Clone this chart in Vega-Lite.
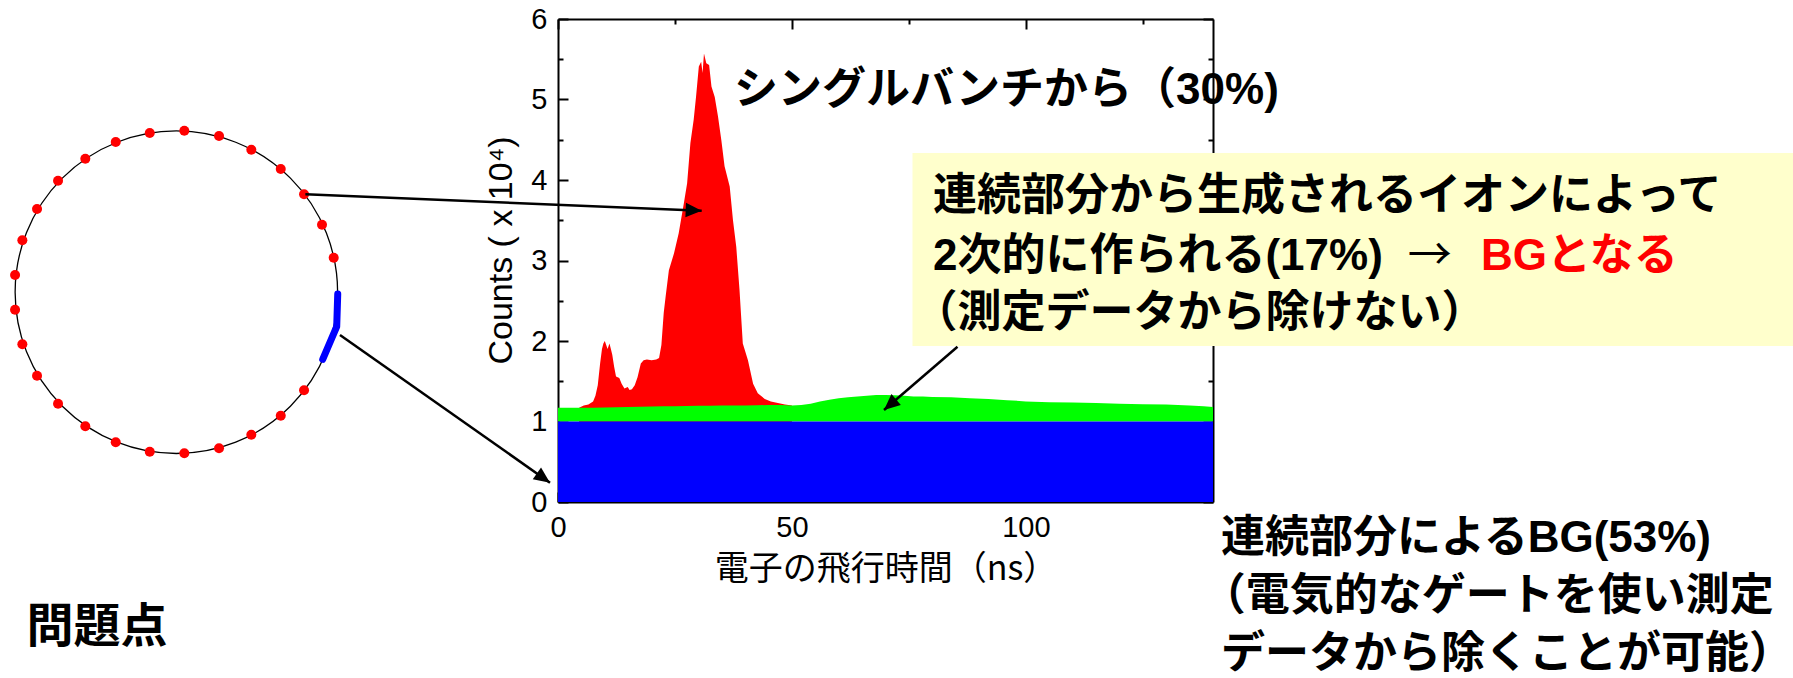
{
  "$schema": "https://vega.github.io/schema/vega-lite/v6.json",
  "width": 655,
  "height": 483,
  "autosize": {"type": "none"},
  "padding": {"left": 558, "top": 19, "right": 580, "bottom": 176},
  "background": "white",
  "config": {
    "view": {"stroke": null},
    "axis": {
      "domainColor": "black",
      "domainWidth": 2,
      "tickColor": "black",
      "tickWidth": 2,
      "labelFont": "Liberation Sans",
      "labelFontSize": 29,
      "labelColor": "black",
      "labelFlush": false,
      "titleColor": "black",
      "titleFontWeight": "normal",
      "grid": false,
      "zindex": 0
    }
  },
  "datasets": {
    "counts": [
      {"t": 0, "base": 1.0, "top": 1.17},
      {"t": 2.5, "base": 1.0, "top": 1.17},
      {"t": 5, "base": 1.0, "top": 1.17},
      {"t": 7.5, "base": 1.0, "top": 1.172},
      {"t": 10, "base": 1.0, "top": 1.175},
      {"t": 12.5, "base": 1.0, "top": 1.178},
      {"t": 15, "base": 1.0, "top": 1.18},
      {"t": 17.5, "base": 1.0, "top": 1.182},
      {"t": 20, "base": 1.0, "top": 1.185},
      {"t": 22.5, "base": 1.0, "top": 1.188},
      {"t": 25, "base": 1.0, "top": 1.19},
      {"t": 27.5, "base": 1.0, "top": 1.192},
      {"t": 30, "base": 1.0, "top": 1.195},
      {"t": 32.5, "base": 1.0, "top": 1.197},
      {"t": 35, "base": 1.0, "top": 1.2},
      {"t": 37.5, "base": 1.0, "top": 1.2},
      {"t": 40, "base": 1.0, "top": 1.2},
      {"t": 42.5, "base": 1.0, "top": 1.202},
      {"t": 45, "base": 1.0, "top": 1.205},
      {"t": 47.5, "base": 1.0, "top": 1.205},
      {"t": 50, "base": 1.0, "top": 1.2},
      {"t": 52, "base": 1.0, "top": 1.205},
      {"t": 54, "base": 1.0, "top": 1.22},
      {"t": 56, "base": 1.0, "top": 1.25},
      {"t": 58, "base": 1.0, "top": 1.27},
      {"t": 60, "base": 1.0, "top": 1.29},
      {"t": 62, "base": 1.0, "top": 1.3},
      {"t": 64, "base": 1.0, "top": 1.31},
      {"t": 66, "base": 1.0, "top": 1.32},
      {"t": 68, "base": 1.0, "top": 1.33},
      {"t": 70, "base": 1.0, "top": 1.33},
      {"t": 72, "base": 1.0, "top": 1.325},
      {"t": 74, "base": 1.0, "top": 1.32},
      {"t": 76, "base": 1.0, "top": 1.31},
      {"t": 78, "base": 1.0, "top": 1.31},
      {"t": 80, "base": 1.0, "top": 1.305},
      {"t": 84, "base": 1.0, "top": 1.3},
      {"t": 88, "base": 1.0, "top": 1.29},
      {"t": 92, "base": 1.0, "top": 1.28},
      {"t": 96, "base": 1.0, "top": 1.265},
      {"t": 100, "base": 1.0, "top": 1.25},
      {"t": 105, "base": 1.0, "top": 1.24},
      {"t": 110, "base": 1.0, "top": 1.235},
      {"t": 115, "base": 1.0, "top": 1.23},
      {"t": 120, "base": 1.0, "top": 1.22},
      {"t": 125, "base": 1.0, "top": 1.215},
      {"t": 130, "base": 1.0, "top": 1.21},
      {"t": 135, "base": 1.0, "top": 1.2},
      {"t": 138, "base": 1.0, "top": 1.19},
      {"t": 140, "base": 1.0, "top": 1.18}
    ],
    "peak": [
      {"t": 4.5, "hi": 1.17},
      {"t": 5.5, "hi": 1.2},
      {"t": 6.5, "hi": 1.21},
      {"t": 7.5, "hi": 1.25},
      {"t": 8.0, "hi": 1.32},
      {"t": 8.5, "hi": 1.45},
      {"t": 9.0, "hi": 1.72},
      {"t": 9.4, "hi": 1.9},
      {"t": 9.7, "hi": 1.97},
      {"t": 10.0, "hi": 2.0},
      {"t": 10.3, "hi": 1.95},
      {"t": 10.6, "hi": 1.9},
      {"t": 11.0, "hi": 1.97},
      {"t": 11.3, "hi": 1.9},
      {"t": 11.6, "hi": 1.83},
      {"t": 12.0, "hi": 1.68},
      {"t": 12.4, "hi": 1.56},
      {"t": 13.1, "hi": 1.54},
      {"t": 13.6, "hi": 1.47},
      {"t": 14.2, "hi": 1.41},
      {"t": 14.9, "hi": 1.43},
      {"t": 15.3, "hi": 1.39},
      {"t": 15.8, "hi": 1.4},
      {"t": 16.4, "hi": 1.45},
      {"t": 17.0, "hi": 1.55},
      {"t": 17.7, "hi": 1.72},
      {"t": 18.3, "hi": 1.76},
      {"t": 19.0, "hi": 1.77},
      {"t": 20.0, "hi": 1.76},
      {"t": 21.0, "hi": 1.77},
      {"t": 21.6, "hi": 1.79},
      {"t": 22.1, "hi": 1.95},
      {"t": 22.6, "hi": 2.35},
      {"t": 23.0, "hi": 2.55},
      {"t": 23.7, "hi": 2.88},
      {"t": 24.8, "hi": 3.09},
      {"t": 25.8, "hi": 3.34},
      {"t": 26.9, "hi": 3.71},
      {"t": 27.6, "hi": 3.96},
      {"t": 28.3, "hi": 4.46},
      {"t": 29.0, "hi": 4.75},
      {"t": 29.5, "hi": 5.03},
      {"t": 30.1, "hi": 5.41},
      {"t": 30.6, "hi": 5.47},
      {"t": 30.9, "hi": 5.33},
      {"t": 31.2, "hi": 5.57},
      {"t": 31.7, "hi": 5.45},
      {"t": 32.3, "hi": 5.43},
      {"t": 32.8, "hi": 5.16},
      {"t": 33.5, "hi": 5.03},
      {"t": 34.2, "hi": 4.79},
      {"t": 34.9, "hi": 4.5},
      {"t": 35.6, "hi": 4.17},
      {"t": 36.7, "hi": 3.92},
      {"t": 37.4, "hi": 3.5},
      {"t": 38.1, "hi": 3.17},
      {"t": 38.8, "hi": 2.63},
      {"t": 39.5, "hi": 1.97},
      {"t": 40.6, "hi": 1.76},
      {"t": 41.7, "hi": 1.47},
      {"t": 42.7, "hi": 1.35},
      {"t": 44.2, "hi": 1.28},
      {"t": 45.5, "hi": 1.25},
      {"t": 47.0, "hi": 1.23},
      {"t": 48.5, "hi": 1.21},
      {"t": 50.0, "hi": 1.2}
    ],
    "hoop": [
      {"x": -81.57, "y": 2.606}
    ],
    "ring": [
      {"x": -79.87, "y": 4.612},
      {"x": -87.26, "y": 4.584},
      {"x": -72.45, "y": 4.547},
      {"x": -94.53, "y": 4.472},
      {"x": -65.55, "y": 4.376},
      {"x": -101.03, "y": 4.265},
      {"x": -59.26, "y": 4.137},
      {"x": -106.86, "y": 3.991},
      {"x": -54.28, "y": 3.822},
      {"x": -111.35, "y": 3.64},
      {"x": -50.44, "y": 3.445},
      {"x": -114.49, "y": 3.251},
      {"x": -47.94, "y": 3.035},
      {"x": -116.05, "y": 2.82},
      {"x": -116.05, "y": 2.389},
      {"x": -114.49, "y": 1.959},
      {"x": -111.35, "y": 1.569},
      {"x": -106.86, "y": 1.221},
      {"x": -101.03, "y": 0.94},
      {"x": -94.53, "y": 0.742},
      {"x": -87.26, "y": 0.625},
      {"x": -79.87, "y": 0.605},
      {"x": -72.45, "y": 0.667},
      {"x": -65.55, "y": 0.836},
      {"x": -59.26, "y": 1.072},
      {"x": -54.28, "y": 1.388}
    ],
    "gate": [
      {"seq": 1, "x": -47.08, "y": 2.584},
      {"seq": 2, "x": -47.3, "y": 2.178},
      {"seq": 3, "x": -50.29, "y": 1.773}
    ],
    "arrows": [
      {"x0": -54.0, "y0": 3.822, "x1": 30.71, "y1": 3.619, "heading": 2.4},
      {"x0": -46.6, "y0": 2.075, "x1": -1.71, "y1": 0.24, "heading": 35.1},
      {"x0": 85.39, "y0": 1.929, "x1": 69.68, "y1": 1.143, "heading": 139.3}
    ],
    "panel": [
      {"x0": 75.77, "x1": 264.0, "y0": 4.335, "y1": 1.938}
    ],
    "notes": [
      {"x": 37.6, "y": 5.1, "text": "シングルバンチから（30%)", "tone": "plain"},
      {"x": 80.15, "y": 3.79, "text": "連続部分から生成されるイオンによって", "tone": "plain"},
      {"x": 80.15, "y": 3.045, "text": "2次的に作られる(17%)", "tone": "plain"},
      {"x": 197.3, "y": 3.045, "text": "BGとなる", "tone": "alert"},
      {"x": 76.0, "y": 2.34, "text": "（測定データから除けない）", "tone": "plain"},
      {"x": 141.7, "y": -0.465, "text": "連続部分によるBG(53%)", "tone": "plain"},
      {"x": 137.6, "y": -1.185, "text": "（電気的なゲートを使い測定", "tone": "plain"},
      {"x": 141.7, "y": -1.895, "text": "データから除くことが可能）", "tone": "plain"}
    ],
    "pointer": [
      {"x": 181.6, "y": 3.045, "text": "→"}
    ],
    "caption": [
      {"x": -113.6, "y": -1.56, "text": "問題点"}
    ]
  },
  "resolve": {"axis": {"x": "independent", "y": "independent"}},
  "layer": [
    {
      "data": {"name": "peak"},
      "mark": {"type": "area", "color": "#ff0000", "interpolate": "linear"},
      "encoding": {
        "x": {
          "field": "t", "type": "quantitative",
          "scale": {"domain": [0, 140], "nice": false, "zero": false},
          "axis": {
            "orient": "bottom", "values": [0, 50, 100], "tickSize": -10,
            "labelPadding": 21, "labelAngle": 0, "domain": true,
            "title": "電子の飛行時間（ns）", "titleFont": "Noto Sans CJK JP",
            "titleFontSize": 34, "titlePadding": 10
          }
        },
        "y": {
          "field": "hi", "type": "quantitative",
          "scale": {"domain": [0, 6], "nice": false},
          "axis": {
            "orient": "left", "values": [0, 1, 2, 3, 4, 5, 6], "tickSize": -10,
            "labelPadding": 21, "domain": true,
            "title": "Counts ( x 10⁴)", "titleFont": "Liberation Sans",
            "titleFontSize": 34, "titlePadding": 12, "titleY": 231
          }
        }
      }
    },
    {
      "data": {"name": "counts"},
      "mark": {"type": "area", "color": "#00ff00", "interpolate": "linear"},
      "encoding": {
        "x": {
          "field": "t", "type": "quantitative",
          "scale": {"domain": [0, 140], "nice": false, "zero": false},
          "axis": {"orient": "bottom", "values": [25, 75, 125], "tickSize": -5, "labels": false, "domain": false, "title": null}
        },
        "y": {
          "field": "top", "type": "quantitative",
          "scale": {"domain": [0, 6], "nice": false},
          "axis": {"orient": "left", "values": [0.5, 1.5, 2.5, 3.5, 4.5, 5.5], "tickSize": -5, "labels": false, "domain": false, "title": null}
        },
        "y2": {"field": "base"}
      }
    },
    {
      "data": {"name": "counts"},
      "mark": {"type": "area", "color": "#0000ff", "interpolate": "linear"},
      "encoding": {
        "x": {
          "field": "t", "type": "quantitative",
          "scale": {"domain": [0, 140], "nice": false, "zero": false},
          "axis": {"orient": "top", "values": [0, 50, 100], "tickSize": -10, "labels": false, "domain": true, "title": null}
        },
        "y": {
          "field": "base", "type": "quantitative",
          "scale": {"domain": [0, 6], "nice": false},
          "axis": {"orient": "right", "values": [0, 1, 2, 3, 4, 5, 6], "tickSize": -10, "labels": false, "domain": true, "title": null}
        }
      }
    },
    {
      "data": {"name": "panel"},
      "mark": {"type": "rect", "color": "#ffffcc"},
      "encoding": {
        "x": {
          "field": "x0", "type": "quantitative",
          "scale": {"domain": [0, 140], "nice": false, "zero": false},
          "axis": {"orient": "top", "values": [25, 75, 125], "tickSize": -5, "labels": false, "domain": false, "title": null}
        },
        "x2": {"field": "x1"},
        "y": {
          "field": "y0", "type": "quantitative",
          "scale": {"domain": [0, 6], "nice": false},
          "axis": {"orient": "right", "values": [0.5, 1.5, 2.5, 3.5, 4.5, 5.5], "tickSize": -5, "labels": false, "domain": false, "title": null}
        },
        "y2": {"field": "y1"}
      }
    },
    {
      "data": {"name": "hoop"},
      "mark": {"type": "point", "shape": "circle", "filled": false, "size": 104000, "stroke": "black", "strokeWidth": 1.3, "opacity": 1},
      "encoding": {
        "x": {"field": "x", "type": "quantitative", "scale": {"domain": [0, 140], "nice": false, "zero": false}, "axis": null},
        "y": {"field": "y", "type": "quantitative", "scale": {"domain": [0, 6], "nice": false}, "axis": null}
      }
    },
    {
      "data": {"name": "ring"},
      "mark": {"type": "point", "shape": "circle", "filled": true, "size": 100, "color": "#ff0000", "opacity": 1},
      "encoding": {
        "x": {"field": "x", "type": "quantitative", "scale": {"domain": [0, 140], "nice": false, "zero": false}, "axis": null},
        "y": {"field": "y", "type": "quantitative", "scale": {"domain": [0, 6], "nice": false}, "axis": null}
      }
    },
    {
      "data": {"name": "gate"},
      "mark": {"type": "line", "color": "#0000ff", "strokeWidth": 7, "strokeCap": "round", "strokeJoin": "round"},
      "encoding": {
        "x": {"field": "x", "type": "quantitative", "scale": {"domain": [0, 140], "nice": false, "zero": false}, "axis": null},
        "y": {"field": "y", "type": "quantitative", "scale": {"domain": [0, 6], "nice": false}, "axis": null},
        "order": {"field": "seq"}
      }
    },
    {
      "data": {"name": "arrows"},
      "mark": {"type": "rule", "color": "black", "strokeWidth": 2.5},
      "encoding": {
        "x": {"field": "x0", "type": "quantitative", "scale": {"domain": [0, 140], "nice": false, "zero": false}, "axis": null},
        "x2": {"field": "x1"},
        "y": {"field": "y0", "type": "quantitative", "scale": {"domain": [0, 6], "nice": false}, "axis": null},
        "y2": {"field": "y1"}
      }
    },
    {
      "data": {"name": "arrows"},
      "mark": {"type": "point", "shape": "M0,0L-2,-0.9L-2,0.9Z", "filled": true, "size": 256, "color": "black", "opacity": 1},
      "encoding": {
        "x": {"field": "x1", "type": "quantitative", "scale": {"domain": [0, 140], "nice": false, "zero": false}, "axis": null},
        "y": {"field": "y1", "type": "quantitative", "scale": {"domain": [0, 6], "nice": false}, "axis": null},
        "angle": {"field": "heading", "type": "quantitative", "scale": null}
      }
    },
    {
      "data": {"name": "notes"},
      "mark": {"type": "text", "font": "Liberation Sans, Noto Sans CJK JP", "fontWeight": "bold", "fontSize": 44, "align": "left", "baseline": "middle"},
      "encoding": {
        "x": {"field": "x", "type": "quantitative", "scale": {"domain": [0, 140], "nice": false, "zero": false}, "axis": null},
        "y": {"field": "y", "type": "quantitative", "scale": {"domain": [0, 6], "nice": false}, "axis": null},
        "text": {"field": "text"},
        "color": {"field": "tone", "type": "nominal", "scale": {"domain": ["plain", "alert"], "range": ["black", "#ff0000"]}, "legend": null}
      }
    },
    {
      "data": {"name": "pointer"},
      "mark": {"type": "text", "font": "Noto Sans CJK JP", "fontWeight": "normal", "fontSize": 44, "align": "left", "baseline": "middle", "color": "black"},
      "encoding": {
        "x": {"field": "x", "type": "quantitative", "scale": {"domain": [0, 140], "nice": false, "zero": false}, "axis": null},
        "y": {"field": "y", "type": "quantitative", "scale": {"domain": [0, 6], "nice": false}, "axis": null},
        "text": {"field": "text"}
      }
    },
    {
      "data": {"name": "caption"},
      "mark": {"type": "text", "font": "Noto Sans CJK JP", "fontWeight": "bold", "fontSize": 47, "align": "left", "baseline": "middle", "color": "black"},
      "encoding": {
        "x": {"field": "x", "type": "quantitative", "scale": {"domain": [0, 140], "nice": false, "zero": false}, "axis": null},
        "y": {"field": "y", "type": "quantitative", "scale": {"domain": [0, 6], "nice": false}, "axis": null},
        "text": {"field": "text"}
      }
    }
  ]
}
